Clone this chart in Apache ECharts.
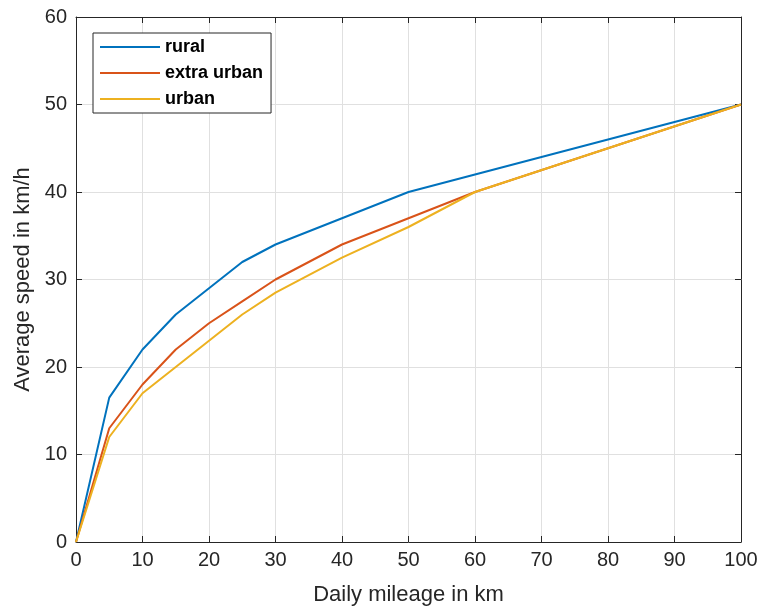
<!DOCTYPE html>
<html><head><meta charset="utf-8">
<script src="https://cdn.jsdelivr.net/npm/echarts@6/dist/echarts.min.js"></script>
<style>html,body{margin:0;padding:0;background:#fff}#c{width:758px;height:606px}</style>
</head><body><div id="c"></div>
<script>
const mileage = [0, 5, 10, 15, 20, 25, 30, 40, 50, 60, 100];
const rural = [0, 16.5, 22, 26, 29, 32, 34, 37, 40, 42, 50];
const extraUrban = [0, 13, 18, 22, 25, 27.5, 30, 34, 37, 40, 50];
const urban = [0, 12, 17, 20, 23, 26, 28.5, 32.5, 36, 40, 50];
const seriesNames = ['rural', 'extra urban', 'urban'];
const colors = ['#0072BD', '#D95319', '#EDB120'];

const font = 'Liberation Sans, Arial, Helvetica, sans-serif';
const axisCol = '#262626';
const chart = echarts.init(document.getElementById('c'));
const pair = (ys) => mileage.map((x, i) => [x, ys[i]]);
const mkSeries = (name, ys, c) => ({
  name, type: 'line', data: pair(ys), showSymbol: false, symbol: 'none',
  lineStyle: { color: c, width: 2 }, itemStyle: { color: c }, z: 3
});
const baseAxisLine = { show: true, onZero: false, lineStyle: { color: axisCol, width: 1 } };
const tick = { show: true, inside: true, length: 6, lineStyle: { color: axisCol } };
chart.setOption({
  animation: false,
  textStyle: { fontFamily: font },
  grid: { left: 76, top: 17, right: 17, bottom: 64, containLabel: false, outerBoundsMode: 'none' },
  legend: {
    left: 93, top: 33, orient: 'vertical',
    data: seriesNames,
    itemWidth: 60, itemHeight: 16, itemGap: 8,
    padding: [5, 8, 5, 7],
    backgroundColor: '#fff', borderColor: axisCol, borderWidth: 1, borderRadius: 0,
    textStyle: { fontSize: 18, fontWeight: 'bold', color: '#000', fontFamily: font },
    icon: 'path://M0,7 L60,7 L60,9 L0,9 Z'
  },
  xAxis: [{
    type: 'value', min: 0, max: 100, interval: 10,
    name: 'Daily mileage in km', nameLocation: 'middle', nameGap: 42,
    nameTextStyle: { fontSize: 22, color: axisCol, fontFamily: font },
    axisLine: baseAxisLine, axisTick: tick,
    axisLabel: { fontSize: 20, color: axisCol, margin: 8, fontFamily: font },
    splitLine: { show: true, lineStyle: { color: '#e0e0e0', width: 1 } }
  }, {
    type: 'value', min: 0, max: 100, interval: 10, position: 'top',
    axisLine: baseAxisLine, axisTick: tick,
    axisLabel: { show: false }, splitLine: { show: false }
  }],
  yAxis: [{
    type: 'value', min: 0, max: 60, interval: 10,
    name: 'Average speed in km/h', nameLocation: 'middle', nameGap: 40,
    nameTextStyle: { fontSize: 22, color: axisCol, fontFamily: font },
    axisLine: baseAxisLine, axisTick: tick,
    axisLabel: { fontSize: 20, color: axisCol, margin: 9, fontFamily: font },
    splitLine: { show: true, lineStyle: { color: '#e0e0e0', width: 1 } }
  }, {
    type: 'value', min: 0, max: 60, interval: 10, position: 'right',
    axisLine: baseAxisLine, axisTick: tick,
    axisLabel: { show: false }, splitLine: { show: false }
  }],
  series: [
    mkSeries(seriesNames[0], rural, colors[0]),
    mkSeries(seriesNames[1], extraUrban, colors[1]),
    mkSeries(seriesNames[2], urban, colors[2])
  ]
});
</script></body></html>
